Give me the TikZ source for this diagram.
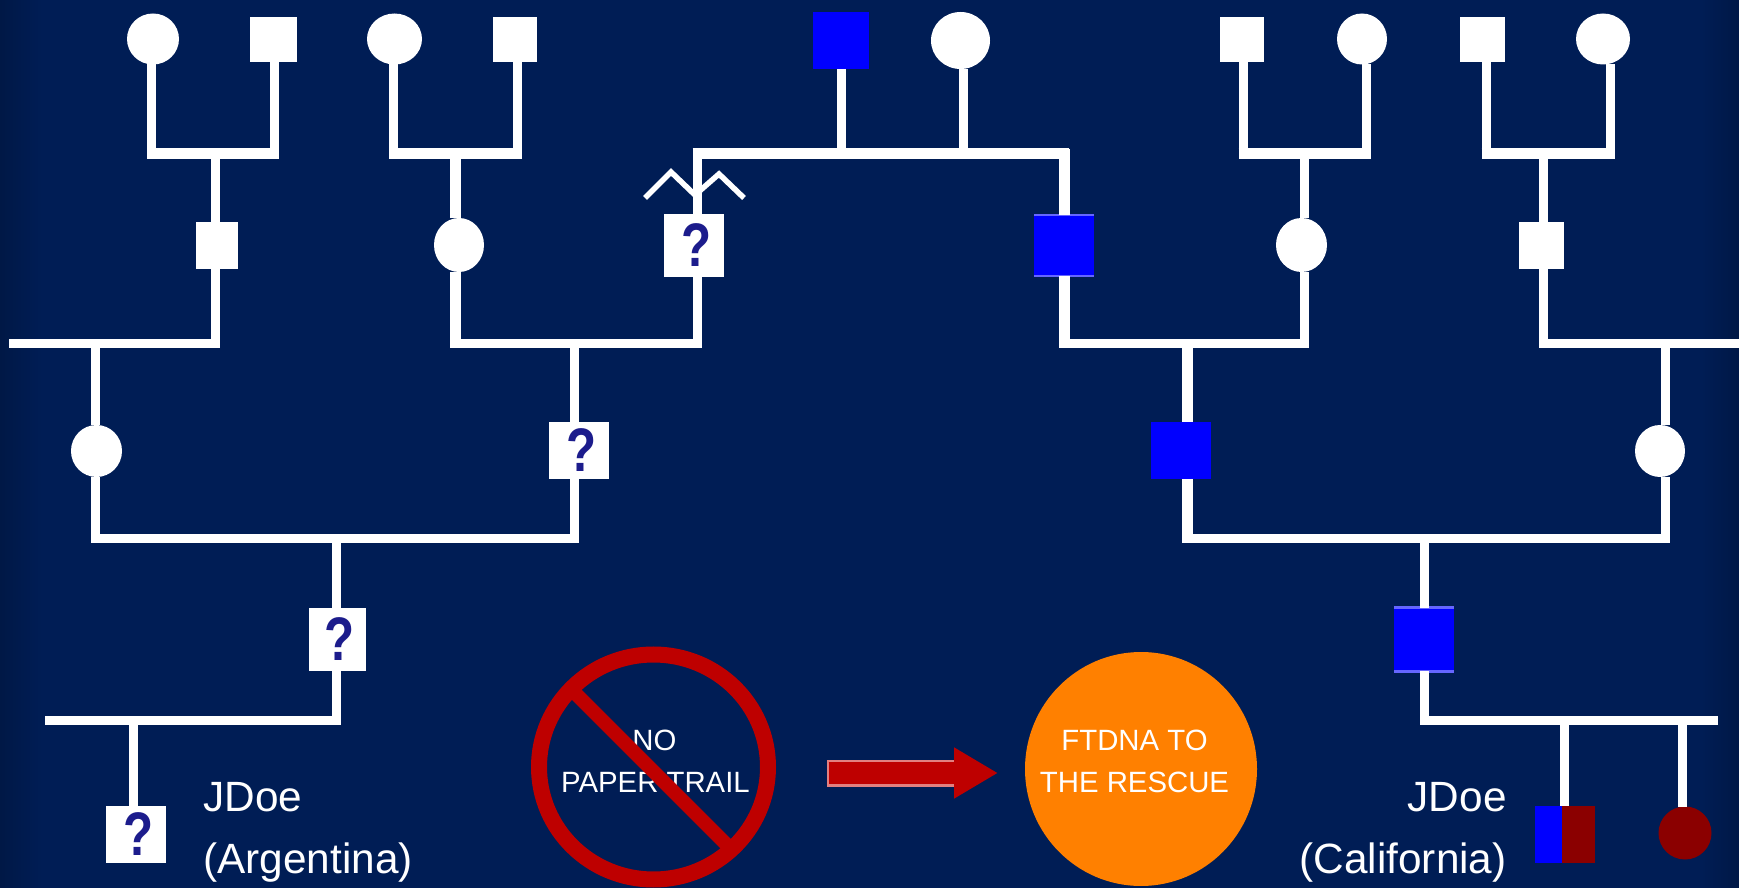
\documentclass[tikz,border=0pt]{standalone}
\usepackage{fontspec}
\setmainfont{Liberation Sans}
\usetikzlibrary{arrows.meta,shapes.geometric}

\def\px{0.02cm}
\definecolor{navybg}{RGB}{0,29,85}
\definecolor{navyedge}{RGB}{0,24,70}
\definecolor{marknavy}{RGB}{28,28,140}
\definecolor{stopred}{RGB}{190,0,0}
\definecolor{lightred}{RGB}{226,128,128}
\definecolor{rescue}{RGB}{255,128,0}
\definecolor{carrier}{RGB}{139,0,0}
\pgfdeclarehorizontalshading{bgshade}{100bp}{color(0bp)=(navyedge);color(25bp)=(navyedge);color(26.2bp)=(navybg);color(73.9bp)=(navybg);color(75bp)=(navyedge);color(100bp)=(navyedge)}
\newcommand{\qmark}{\hspace*{2.8pt}\scalebox{.8}[1]{?}}

\tikzset{
  person/.style={inner sep=0pt,outer sep=0pt,draw=none,fill=white},
  male/.style={person,rectangle},
  female/.style={person,ellipse},
  unknown/.style={person,rectangle,text=marknavy,font=\fontsize{35}{35}\selectfont\bfseries},
  tested/.style={person,rectangle,fill=blue},
  link/.style={draw=white,line width=9*\px},
  widelink/.style={draw=white,line width=11*\px},
  topbar/.style={draw=white,line width=11*\px,shorten <=-4.5*\px,shorten >=-4.5*\px},
  bigtext/.style={text=white,inner sep=0pt,font=\fontsize{24.1}{34.7}\selectfont},
  smalltext/.style={text=white,inner sep=0pt,align=center,font=\fontsize{16.7}{23.9}\selectfont}
}

\begin{document}
\begin{tikzpicture}[x=0.02cm,y=-0.02cm]
    \useasboundingbox (0,0) rectangle (1739,888);
    \shade[shading=bgshade] (0,0) rectangle (1739,888); %background

    %grandparents row
    \foreach \name/\x/\y/\w/\h in {f1/153/39/52/51,f2/394.5/39/55/51,f3/960.5/40.5/59/57,f4/1362/39/50/51,f5/1603/39/54/51,
      f6/459/245/50/54,f7/1301.5/245/51/54,f8/96.5/451/51/52,f9/1660/451/50/52}
      \node[female,minimum width=\w*\px,minimum height=\h*\px] (\name) at (\x,\y) {};
    \foreach \name/\x/\y/\w/\h in {m1/273.5/39.5/47/45,m2/515/39.5/44/45,m3/1242/39.5/44/45,m4/1482.5/39.5/45/45,
      m5/217/245.5/42/47,m6/1541.5/245.5/45/47}
      \node[male,minimum width=\w*\px,minimum height=\h*\px] (\name) at (\x,\y) {};

    %question marks
    \foreach \name/\x/\y/\w/\h in {q1/694/245.5/60/63,q2/579/450.5/60/57,q3/337.5/639.5/57/63,q4/136/834.5/60/57}
      \node[unknown,minimum width=\w*\px,minimum height=\h*\px] (\name) at (\x,\y) {\qmark};

    %blue line
    \foreach \name/\x/\y/\w/\h in {b1/841/40.5/56/57,b2/1064/245.5/60/61,b3/1181/450.5/60/57,b4/1424/639.5/60/63}
      \node[tested,minimum width=\w*\px,minimum height=\h*\px] (\name) at (\x,\y) {};
    \draw[blue!60!white,line width=2*\px] (b2.north west) -- (b2.north east); %light edges
    \draw[blue!60!white,line width=2*\px] (b2.south west) -- (b2.south east);
    \draw[blue!60!white,line width=3*\px] (b4.north west) -- (b4.north east);
    \draw[blue!60!white,line width=3*\px] (b4.south west) -- (b4.south east);

    %the two lasts
    \node[person,rectangle,fill=carrier,minimum width=60*\px,minimum height=57*\px] (son) at (1565,834.5) {};
    \fill[blue] (son.south west) rectangle ([xshift=-3*\px]son.north); %blue half of the son
    \node[person,circle,fill=carrier,minimum size=53*\px] (daughter) at (1685,833) {};

    %couples: bar height, father, mother, their x, child x, child
    \foreach \h/\pa/\pb/\xa/\xb/\xc/\ch in {344/f6/q1/455/697/574/q2,344/b2/f7/1064.5/1304/1187.5/b3,
      538.5/f8/q2/95.5/574/336/q3,538.5/b3/f9/1187.5/1665/1424/b4} {
      \coordinate (barl) at (\xa,\h);
      \coordinate (barr) at (\xb,\h);
      \coordinate (barc) at (\xc,\h);
      \draw[link] (barl |- \pa.south) -- (barl) -- (barr) -- (barr |- \pb.south);
      \draw[link] (barc) -- (barc |- \ch.north);
    }

    %couples on top row
    \foreach \pa/\pb/\xa/\xb/\xc/\ch in {f1/m1/151.5/274.5/215.5/m5,f2/m2/393.5/517/455/f6,
      m3/f4/1243/1366/1304/f7,m4/f5/1486/1610/1543/m6} {
      \coordinate (barl) at (\xa,153.5);
      \coordinate (barr) at (\xb,153.5);
      \coordinate (barc) at (\xc,153.5);
      \draw[link] (barl |- \pa.south) -- (barl);
      \draw[link] (barr |- \pb.south) -- (barr);
      \draw[topbar] (barl) -- (barr);
      \draw[link] (barc) -- (barc |- \ch.north);
    }

    %the blue couple and its twins
    \coordinate (twinl) at (697,153.5);
    \coordinate (twinr) at (1064.5,153.5);
    \draw[topbar] (twinl) -- (twinr);
    \draw[link] (twinl |- q1.north) -- (twinl);
    \draw[link] (b1) -- (b1 |- twinl);
    \draw[link] (f3.south -| 963,0) -- (963,153.5);
    \draw[white,line width=5.5*\px] (645,198) -- (671,172) -- (695,195) -- (719,174) -- (744,198);

    %thicker stems
    \foreach \name/\x/\ya/\yb in {f6/455/153.5/344,b2/1064.5/153.5/344,b3/1187.5/344/538.5} {
      \draw[widelink,shorten <=-4.5*\px] (\x,\ya) -- (\name.north -| \x,0);
      \draw[widelink,shorten >=-4.5*\px] (\name.south -| \x,0) -- (\x,\yb);
    }

    %open ended bars
    \coordinate (openl) at (9,344);
    \coordinate (openr) at (1739,344);
    \coordinate (openla) at (45,720.5);
    \coordinate (openra) at (1718,720.5);
    \draw[link] (openl) -| (m5.south -| 215.5,0);
    \draw[link] (95.5,344) -- (f8.north -| 95.5,0);
    \draw[link] (openr) -| (m6.south -| 1543,0);
    \draw[link] (1665,344) -- (f9.north -| 1665,0);
    \draw[link] (openla) -| (q3.south -| 336,0);
    \draw[link] (133.5,720.5) -- (q4.north -| 133.5,0);
    \draw[link] (openra) -| (b4.south);
    \draw[link] (1564.5,720.5) -- (son.north -| 1564.5,0);
    \draw[link] (1682.5,720.5) -- (daughter.north -| 1682.5,0);

    %labels
    \node[bigtext,anchor=base west] (jdoea) at (203,811) {JDoe};
    \node[bigtext,anchor=base west] (arg) at (203,873) {(Argentina)};
    \node[bigtext,anchor=base east] (jdoeb) at (1507,811) {JDoe};
    \node[bigtext,anchor=base east] (cal) at (1507,873) {(California)};

    %no paper trail sign
    \node[smalltext,anchor=base] (notext) at (654.5,750) {NO};
    \node[smalltext,anchor=base] (trailtext) at (655.5,792) {PAPER TRAIL};
    \node[ellipse,draw=stopred,line width=16*\px,inner sep=0pt,minimum width=229*\px,minimum height=225*\px] (nosign) at (653.5,767) {};
    \draw[stopred,line width=14*\px] (574,692) -- (732,850);

    %arrow
    \coordinate (arrowa) at (827,773);
    \coordinate (arrowb) at (960,773);
    \coordinate (arrowc) at (998,773);
    \draw[lightred,line width=27*\px] (arrowa) -- (arrowb);
    \draw[stopred,line width=22*\px,-{Triangle[length=44*\px,width=48*\px]}] ([xshift=1.5*\px]arrowa) -- (arrowc);

    %rescue circle
    \node[ellipse,fill=rescue,inner sep=0pt,minimum width=232*\px,minimum height=234*\px] (rescuedot) at (1141,769) {};
    \node[smalltext,anchor=base] (ftdna) at (1134.5,750) {FTDNA TO};
    \node[smalltext,anchor=base] (rescuetext) at (1134.5,792) {THE RESCUE};
\end{tikzpicture}
\end{document}
